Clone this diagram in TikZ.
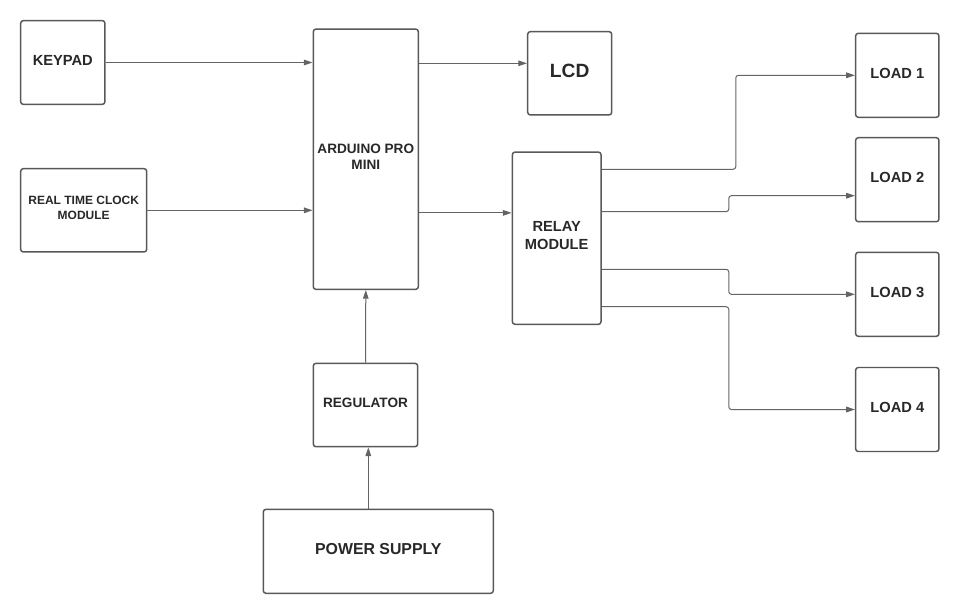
\documentclass[tikz,border=0pt]{standalone}
\usepackage{fontspec}
\setmainfont{Liberation Sans}
\usepackage{tikz}
\usetikzlibrary{arrows.meta,calc}

\definecolor{edgegray}{RGB}{88,88,88}
\definecolor{linegray}{RGB}{100,100,100}
\definecolor{textgray}{RGB}{40,40,40}

\tikzset{
  block/.style={draw=edgegray, line width=1.1pt, rounded corners=2pt, fill=white,
    text=textgray, font=\bfseries\fontsize{11}{13.5}\selectfont, align=center,
    inner sep=0pt, text depth=3.5pt},
  link/.style={draw=linegray, line width=0.75pt, rounded corners=2pt,
    -{Triangle[length=6.5pt,width=4.2pt]}}
}

\begin{document}
\begin{tikzpicture}[x=0.75pt,y=-0.75pt]
      \useasboundingbox (0,0) rectangle (960,614);

      \node[block, minimum width=63.2pt, minimum height=62.8pt] (kp) at (62.8,62.5) {KEYPAD};
      \node[block, minimum width=94.5pt, minimum height=62.5pt, font=\bfseries\fontsize{9}{11.25}\selectfont] (rtc) at (83.7,210.3) {REAL TIME CLOCK\\MODULE};
      \node[block, minimum width=78.8pt, minimum height=195.2pt, font=\bfseries\fontsize{10.2}{12.5}\selectfont] (ard) at (365.8,159.2) {ARDUINO PRO\\MINI};
      \node[block, minimum width=63pt, minimum height=62.5pt, font=\bfseries\fontsize{14.4}{17}\selectfont] (lcd) at (569.7,73.3) {LCD};
      \node[block, minimum width=66.5pt, minimum height=129.2pt] (rly) at (556.7,238.2) {RELAY\\MODULE};

      \node[block, minimum width=62.5pt, minimum height=63pt] (ld1) at (897.3,75.3) {LOAD 1};
      \node[block, minimum width=62.5pt, minimum height=63pt] (ld2) at (897.3,179.7) {LOAD 2};
      \node[block, minimum width=62.5pt, minimum height=63pt] (ld3) at (897.3,294.3) {LOAD 3};
      \node[block, minimum width=62.5pt, minimum height=63pt] (ld4) at (897.3,409.5) {LOAD 4};

      \node[block, minimum width=78.3pt, minimum height=62.5pt, font=\bfseries\fontsize{10.2}{12.5}\selectfont] (reg) at (365.5,405) {REGULATOR};
      \node[block, minimum width=172.5pt, minimum height=63pt, font=\bfseries\fontsize{11.9}{14}\selectfont] (ps) at (378.3,551.3) {POWER SUPPLY};

      % inputs to the controller
      \draw[link] (kp.east) -- (kp.east -| ard.west);
      \draw[link] (rtc.east) -- (rtc.east -| ard.west);

      % controller outputs
      \coordinate (a) at ([yshift=7.5pt]lcd.west);
      \draw[link] (a -| ard.east) -- (a);
      \coordinate (b) at ([yshift=19pt]rly.west);
      \draw[link] (b -| ard.east) -- (b);

      % relay channels
      \coordinate (r1) at (rly.east |- 0,169.3);
      \coordinate (r2) at (rly.east |- 0,211.7);
      \coordinate (r3) at (rly.east |- 0,269.3);
      \coordinate (r4) at (rly.east |- 0,306.7);
      \draw[link] (r1) -- ++(134,0) |- (ld1.west);
      \draw[link] (r2) -- ++(127,0) |- ([yshift=-12pt]ld2.west);
      \draw[link] (r3) -- ++(127,0) |- (ld3.west);
      \draw[link] (r4) -- ++(127,0) |- (ld4.west);

      % power path
      \draw[link] (reg.north) -- (ard.south);
      \coordinate (c) at ([xshift=-7.5pt]ps.north);
      \draw[link] (c) -- (c |- reg.south);
    \end{tikzpicture}
\end{document}
